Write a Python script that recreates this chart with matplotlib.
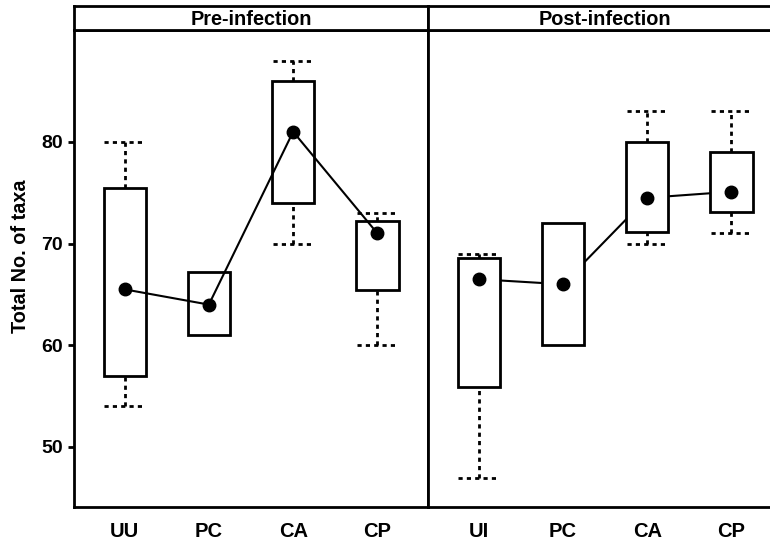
import matplotlib
matplotlib.use("Agg")
import matplotlib.pyplot as plt

plt.rcParams["font.family"] = ["Liberation Sans", "DejaVu Sans"]
plt.rcParams["font.weight"] = "bold"

groups = ["Pre-infection", "Post-infection"]
labels = [["UU", "PC", "CA", "CP"], ["UI", "PC", "CA", "CP"]]

# whisker low, box low, box high, whisker high, mean
whisk_lo = [[54, 61, 70, 60], [47, 60, 70, 71]]
box_lo = [[57, 61, 74, 65.4], [55.9, 60, 71.1, 73.1]]
box_hi = [[75.5, 67.2, 86, 72.2], [68.6, 72, 80, 79]]
whisk_hi = [[80, 67.2, 88, 73], [69, 72, 83, 83]]
means = [[65.5, 64, 81, 71], [66.5, 66, 74.5, 75.1]]

W, H = 770, 543
fig = plt.figure(figsize=(W / 100, H / 100), dpi=100)

left, bottom, top, strip_top = 74, 507, 30, 6
pw = 354
LW = 2.0
dash = (0, (1.5, 1.5))

for i, grp in enumerate(groups):
    x0 = left + i * pw
    ax = fig.add_axes([x0 / W, 1 - bottom / H, pw / W, (bottom - top) / H])
    st = fig.add_axes([x0 / W, 1 - top / H, pw / W, (top - strip_top) / H])

    xs = [1, 2, 3, 4]
    heights = [h - l for h, l in zip(box_hi[i], box_lo[i])]
    line_z = 4 if i == 0 else 1
    ax.plot(xs, means[i], color="black", lw=1.5, zorder=line_z)
    ax.bar(xs, heights, bottom=box_lo[i], width=0.5, color="white",
           edgecolor="black", linewidth=LW, zorder=2)
    for x, wl, bl, bh, wh in zip(xs, whisk_lo[i], box_lo[i], box_hi[i], whisk_hi[i]):
        if wh > bh:
            ax.vlines(x, bh, wh, color="black", lw=LW, linestyles=dash, zorder=1)
            ax.hlines(wh, x - 0.24, x + 0.24, color="black", lw=LW,
                      linestyles=dash, zorder=1)
        if wl < bl:
            ax.vlines(x, wl, bl, color="black", lw=LW, linestyles=dash, zorder=1)
            ax.hlines(wl, x - 0.24, x + 0.24, color="black", lw=LW,
                      linestyles=dash, zorder=1)
    ax.plot(xs, means[i], "o", color="black", markersize=9, zorder=5)

    ax.set_xlim(0.4, 4.6)
    ax.set_ylim(44.1, 91.0)
    ax.set_xticks(xs)
    ax.set_xticklabels(labels[i], fontsize=14.5, fontweight="bold")
    ax.tick_params(axis="x", length=0, pad=11)
    for s in ax.spines.values():
        s.set_linewidth(LW)
    if i == 0:
        ax.set_yticks([50, 60, 70, 80])
        ax.tick_params(axis="y", labelsize=14, length=4, width=LW, pad=4)
        ax.set_ylabel("Total No. of taxa", fontsize=14.3, fontweight="bold")
        ax.yaxis.set_label_coords(-0.124, 0.525)
    else:
        ax.set_yticks([])

    st.set_xticks([])
    st.set_yticks([])
    for s in st.spines.values():
        s.set_linewidth(LW)
    st.text(0.5, 0.45, grp, ha="center", va="center", fontsize=14.3,
            fontweight="bold", transform=st.transAxes)

fig.savefig("out.png", dpi=100)
